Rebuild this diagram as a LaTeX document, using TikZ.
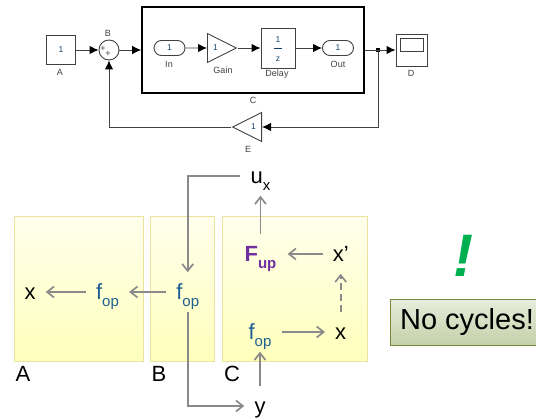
\documentclass[tikz,border=0pt]{standalone}
\usepackage{fontspec}
\setmainfont{Liberation Sans}
\usetikzlibrary{arrows.meta,shapes.geometric,shapes.misc}
\definecolor{flowgrey}{HTML}{8A8A8A}
\definecolor{fopblue}{HTML}{1F5F93}
\definecolor{fuppurple}{HTML}{7030A0}
\definecolor{blockline}{HTML}{404040}
\definecolor{bangreen}{HTML}{00B050}
\definecolor{paneltop}{HTML}{FFFFEC}
\definecolor{panelbottom}{HTML}{FFFFBC}
\definecolor{panelline}{HTML}{EBE29F}
\definecolor{notetop}{HTML}{E8EDDD}
\definecolor{notebottom}{HTML}{C4D0A8}
\definecolor{noteline}{HTML}{76883A}
\newcommand{\subtxt}[1]{\raisebox{-0.3em}{\fontsize{15}{15}\selectfont #1}}
\newcommand{\delayfrac}{\renewcommand{\arraystretch}{2.1}\setlength{\tabcolsep}{2pt}\begin{tabular}{c}1\\\hline z\end{tabular}}
\tikzset{
    block/.style={
        draw=blockline,
        inner sep=0,
        line width=0.9pt,
        font=\fontsize{8.5}{9}\selectfont,
        text=fopblue!70!black,
    },
    gainblock/.style={
        block,
        isosceles triangle,
        isosceles triangle stretches,
        minimum width=29pt,
        minimum height=29pt,
    },
    portblock/.style={
        block,
        rounded rectangle,
        minimum width=31pt,
        minimum height=15pt,
    },
    tag/.style={
        inner sep=0,
        font=\fontsize{9}{10}\selectfont,
        text=black!75,
    },
    wire/.style={
        draw=blockline,
        line width=0.9pt,
        -{Latex[length=9pt,width=8.5pt,black]},
    },
    panel/.style={
        draw=panelline,
        line width=0.8pt,
        top color=paneltop,
        bottom color=panelbottom,
        inner sep=0,
    },
    word/.style={
        inner xsep=10pt,
        inner ysep=11pt,
        text height=16pt,
        text depth=1pt,
        font=\fontsize{22}{25}\selectfont,
    },
    fopword/.style={
        word,
        text=fopblue,
    },
    flow/.style={
        draw=flowgrey,
        line width=1.7pt,
        -{Straight Barb[length=7pt,width=11pt]},
    },
}
\begin{document}
\begin{tikzpicture}[x=1pt,y=-1pt]
    \useasboundingbox (0,0) rectangle (536,420);

    % model
    \node[block,minimum width=29pt,minimum height=29pt] (constA) at (61,50) {1};
    \node[block,circle,minimum size=20pt] (sumB) at (109,50) {};
    \node[tag] (plusa) at (103,49) {+};
    \node[tag] (plusb) at (108,54) {+};
    \node[block,draw=black,line width=1.6pt,minimum width=222pt,minimum height=86pt] (subC) at (253,50) {};
    \node[portblock] (portin) at (169.5,48) {1};
    \node[gainblock,anchor=lower side] (gain) at (207,48) {1};
    \node[block,minimum width=34pt,minimum height=40pt] (delay) at (278,48) {\delayfrac};
    \node[portblock] (portout) at (338,48) {1};
    \node[block,minimum width=31pt,minimum height=32pt] (scopeD) at (411.5,50) {};
    \node[block,minimum width=23pt,minimum height=13pt] (screen) at (411.5,44.5) {};
    \coordinate (branch) at (378,50);
    \fill[black] (branch) ++(-1.7,-1.7) rectangle ++(3.4,3.4);
    \node[gainblock,shape border rotate=180,anchor=lower side] (gainE) at (262,127) {1};

    \node[tag] (tagA) at (60,72) {A};
    \node[tag] (tagB) at (108,33) {B};
    \node[tag] (tagC) at (253,100) {C};
    \node[tag] (tagD) at (411,73) {D};
    \node[tag] (tagE) at (248,149) {E};
    \node[tag] (tagin) at (169,64) {In};
    \node[tag] (taggain) at (223,70) {Gain};
    \node[tag] (tagdelay) at (277,74) {Delay};
    \node[tag] (tagout) at (338,64) {Out};

    \draw[wire] (constA) -- (sumB);
    \draw[wire] (sumB) -- (subC.west);
    \draw[wire] (portin) -- (gain.lower side);
    \draw[wire] (gain.apex) -- (delay);
    \draw[wire] (delay) -- (portout);
    \draw[wire] (subC.east) -- (scopeD);
    \draw[wire] (branch) |- (gainE.lower side);
    \draw[wire] (gainE.apex) -| (sumB);

    % panels
    \node[panel,minimum width=129pt,minimum height=145pt] (panelA) at (78.5,288.5) {};
    \node[panel,minimum width=64pt,minimum height=145pt] (panelB) at (182,288.5) {};
    \node[panel,minimum width=145pt,minimum height=145pt] (panelC) at (294.5,288.5) {};

    \node[word] (nameA) at (23,374) {A};
    \node[word] (nameB) at (159,374) {B};
    \node[word] (nameC) at (232,374) {C};

    \node[word] (xA) at (30,292) {x};
    \node[fopword] (fopA) at (107.5,292) {f\subtxt{op}};
    \node[fopword] (fopB) at (187.7,292) {f\subtxt{op}};
    \node[word] (ux) at (260.5,176) {u\subtxt{x}};
    \node[word] (yout) at (260,406) {y};
    \node[word,inner xsep=11pt,text=fuppurple,font=\fontsize{22}{25}\selectfont\bfseries] (fup) at (260.5,254) {F\subtxt{up}};
    \node[word] (xprime) at (340.7,254) {x’};
    \node[fopword] (fopC) at (260,332) {f\subtxt{op}};
    \node[word] (xC) at (340.7,332) {x};

    \draw[flow] (fopA) -- (xA);
    \draw[flow] (fopB) -- (fopA);
    \draw[flow] (ux) -| (fopB);
    \draw[flow] (fopB) |- (yout);
    \draw[flow] (yout) -- (fopC);
    \draw[flow] (fopC) -- (xC);
    \draw[flow,dash pattern=on 7pt off 4pt] (xC) -- (xprime);
    \draw[flow] (xprime) -- (fup);
    \draw[flow] (fup) -- (ux);

    % remark
    \node[inner sep=0,text=bangreen,font=\fontsize{60}{60}\selectfont\bfseries\itshape] (bang) at (463,256) {!};
    \node[draw=noteline,line width=0.8pt,top color=notetop,bottom color=notebottom,inner sep=0,minimum width=146pt,minimum height=46pt,font=\fontsize{29}{34}\selectfont] (nocycles) at (463,322) {\hspace*{8pt}No cycles!};
\end{tikzpicture}
\end{document}
